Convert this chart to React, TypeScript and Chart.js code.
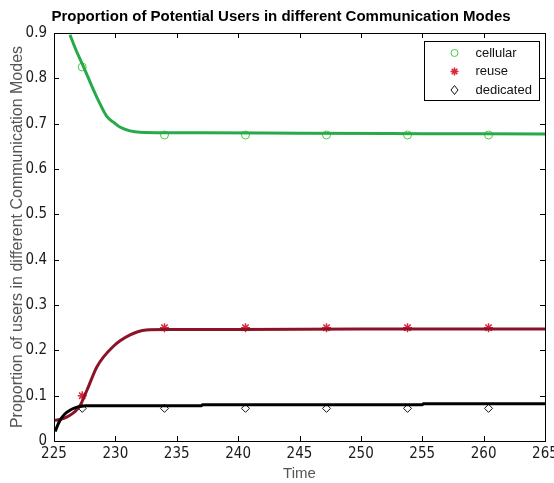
import React, { useEffect, useRef } from "react";
import { Chart, registerables } from "chart.js";

Chart.register(...registerables);

const TITLE = "Proportion of Potential Users in different Communication Modes";
const X_LABEL = "Time";
const Y_LABEL = "Proportion of users in different Communication Modes";
const SERIES_NAMES = ["cellular", "reuse", "dedicated"];

const X_MIN = 225;
const X_MAX = 265;
const X_STEP = 5;
const Y_MIN = 0;
const Y_MAX = 0.9;
const Y_STEP = 0.1;

// Marker (sampled) values
const markerTimes = [227.3, 234, 240.6, 247.2, 253.8, 260.4];
const cellularMarks = [0.825, 0.675, 0.675, 0.675, 0.675, 0.675];
const reuseMarks = [0.1, 0.25, 0.25, 0.25, 0.25, 0.25];
const dedicatedMarks = [0.072, 0.072, 0.072, 0.072, 0.072, 0.072];

// Fitted curves
const cellularCurveX = [226.3, 226.8, 227.4, 228.0, 228.6, 229.3, 229.9, 230.4, 231.2, 232, 234, 237, 245, 255, 265];
const cellularCurveY = [0.896, 0.862, 0.826, 0.788, 0.752, 0.716, 0.702, 0.692, 0.684, 0.681, 0.68, 0.68, 0.679, 0.678, 0.677];

const reuseCurveX = [225, 225.8, 226.3, 226.7, 227.1, 227.7, 228.5, 229.8, 231.2, 232.5, 234, 240, 250, 265];
const reuseCurveY = [0.045, 0.05, 0.057, 0.065, 0.077, 0.113, 0.164, 0.208, 0.234, 0.245, 0.246, 0.246, 0.247, 0.247];

const dedicatedCurveX = [225.1, 225.3, 225.5, 225.9, 226.3, 226.7, 227.1, 227.6, 230, 237, 237.1, 255, 255.1, 265];
const dedicatedCurveY = [0.021, 0.035, 0.046, 0.06, 0.068, 0.073, 0.076, 0.078, 0.078, 0.078, 0.08, 0.08, 0.082, 0.082];

const GREEN_LINE = "rgb(40,170,75)";
const RED_LINE = "rgb(140,18,40)";
const BLACK_LINE = "#000000";
const GREEN_MARK = "rgb(70,205,70)";
const RED_MARK = "rgb(220,35,55)";
const BLACK_MARK = "#111111";

const FONT = "Arial, 'Liberation Sans', sans-serif";
const NARROW = "'Liberation Sans Narrow', 'Arial Narrow', 'DejaVu Sans Condensed', Arial, sans-serif";

const toPoints = (xs: number[], ys: number[]) => xs.map((x, i) => ({ x, y: ys[i] }));

const axesPlugin = {
  id: "matlabAxes",
  afterDatasetsDraw(chart: any) {
    const { ctx, chartArea, scales } = chart;
    const { left, right, top, bottom } = chartArea;
    ctx.save();
    ctx.strokeStyle = "#000";
    ctx.lineWidth = 1;
    ctx.strokeRect(Math.round(left) + 0.5, Math.round(top) + 0.5, Math.round(right - left), Math.round(bottom - top));
    const tl = 5;
    ctx.beginPath();
    for (let v = X_MIN; v <= X_MAX + 1e-9; v += X_STEP) {
      const px = Math.round(scales.x.getPixelForValue(v)) + 0.5;
      ctx.moveTo(px, bottom);
      ctx.lineTo(px, bottom - tl);
      ctx.moveTo(px, top);
      ctx.lineTo(px, top + tl);
    }
    for (let i = 0; i <= Math.round((Y_MAX - Y_MIN) / Y_STEP); i++) {
      const v = Y_MIN + i * Y_STEP;
      const py = Math.round(scales.y.getPixelForValue(v)) + 0.5;
      ctx.moveTo(left, py);
      ctx.lineTo(left + tl, py);
      ctx.moveTo(right, py);
      ctx.lineTo(right - tl, py);
    }
    ctx.stroke();
    ctx.restore();
  },
  afterDraw(chart: any) {
    const { ctx, chartArea } = chart;
    // title
    ctx.save();
    ctx.font = `bold 15px ${FONT}`;
    ctx.fillStyle = "#000";
    ctx.textAlign = "center";
    ctx.textBaseline = "middle";
    ctx.fillText(TITLE, 281, 17);
    ctx.restore();

    const w = 115;
    const h = 59;
    const x0 = Math.round(chartArea.right - 121) + 0.5;
    const y0 = Math.round(chartArea.top + 8) + 0.5;
    ctx.save();
    ctx.fillStyle = "#fff";
    ctx.fillRect(x0, y0, w, h);
    ctx.strokeStyle = "#000";
    ctx.lineWidth = 1;
    ctx.strokeRect(x0, y0, w, h);
    ctx.font = `13px ${FONT}`;
    ctx.textBaseline = "middle";
    ctx.textAlign = "left";
    SERIES_NAMES.forEach((name, i) => {
      const cy = y0 + 11.5 + i * 18.5;
      const cx = x0 + 30;
      ctx.lineWidth = 1;
      if (i === 0) {
        ctx.strokeStyle = GREEN_MARK;
        ctx.beginPath();
        ctx.arc(cx, cy, 3.5, 0, Math.PI * 2);
        ctx.stroke();
      } else if (i === 1) {
        ctx.strokeStyle = RED_MARK;
        ctx.lineWidth = 1.5;
        ctx.beginPath();
        for (let k = 0; k < 4; k++) {
          const a = (k * Math.PI) / 4;
          ctx.moveTo(cx - 4 * Math.cos(a), cy - 4 * Math.sin(a));
          ctx.lineTo(cx + 4 * Math.cos(a), cy + 4 * Math.sin(a));
        }
        ctx.stroke();
      } else {
        ctx.strokeStyle = BLACK_MARK;
        ctx.beginPath();
        ctx.moveTo(cx, cy - 4.5);
        ctx.lineTo(cx + 3.5, cy);
        ctx.lineTo(cx, cy + 4.5);
        ctx.lineTo(cx - 3.5, cy);
        ctx.closePath();
        ctx.stroke();
      }
      ctx.fillStyle = "#111";
      ctx.fillText(name, x0 + 51, cy);
    });
    ctx.restore();
  },
};

export default function App() {
  const canvasRef = useRef<HTMLCanvasElement | null>(null);

  useEffect(() => {
    document.body.style.margin = "0";
    const canvas = canvasRef.current;
    if (!canvas) return;
    const lineDs = (label: string, xs: number[], ys: number[], color: string) => ({
      type: "line" as const,
      label,
      data: toPoints(xs, ys),
      borderColor: color,
      backgroundColor: color,
      borderWidth: 3,
      pointRadius: 0,
      cubicInterpolationMode: "monotone" as const,
      fill: false,
    });
    const markDs = (label: string, ys: number[], style: string, color: string, radius: number, bw: number) => ({
      type: "scatter" as const,
      label,
      data: toPoints(markerTimes, ys),
      showLine: false,
      pointStyle: style,
      pointRadius: radius,
      pointBorderColor: color,
      pointBackgroundColor: "rgba(0,0,0,0)",
      pointBorderWidth: bw,
      borderColor: color,
      backgroundColor: "rgba(0,0,0,0)",
    });

    const chart = new Chart(canvas, {
      type: "scatter",
      data: {
        datasets: [
          lineDs("cellular fit", cellularCurveX, cellularCurveY, GREEN_LINE),
          lineDs("dedicated fit", dedicatedCurveX, dedicatedCurveY, BLACK_LINE),
          lineDs("reuse fit", reuseCurveX, reuseCurveY, RED_LINE),
          markDs(SERIES_NAMES[0], cellularMarks, "circle", GREEN_MARK, 4, 1),
          markDs(SERIES_NAMES[1], reuseMarks, "star", RED_MARK, 4.5, 1.5),
          markDs(SERIES_NAMES[2], dedicatedMarks, "rectRot", BLACK_MARK, 4, 1),
        ] as any,
      },
      options: {
        responsive: false,
        animation: false,
        devicePixelRatio: 1,
        layout: { padding: { top: 33, right: 9, left: 0, bottom: 0 } },
        plugins: {
          legend: { display: false },
          tooltip: { enabled: false },
          title: { display: false },
        },
        scales: {
          x: {
            type: "linear",
            min: X_MIN,
            max: X_MAX,
            grid: { display: false, drawTicks: false },
            border: { display: false },
            ticks: {
              stepSize: X_STEP,
              color: "#1a1a1a",
              padding: 4,
              maxRotation: 0,
              font: { family: NARROW, size: 15 },
              callback: (v: any) => String(Math.round(Number(v))),
            },
            title: {
              display: true,
              text: X_LABEL,
              color: "#555",
              font: { family: FONT, size: 15 },
              padding: { top: 0, bottom: 0 },
            },
            afterFit: (s: any) => {
              s.height = 42;
              s.paddingLeft = 0;
              s.paddingRight = 0;
            },
          },
          y: {
            type: "linear",
            min: Y_MIN,
            max: Y_MAX,
            grid: { display: false, drawTicks: false },
            border: { display: false },
            ticks: {
              stepSize: Y_STEP,
              color: "#1a1a1a",
              padding: 7,
              font: { family: NARROW, size: 15 },
              callback: (v: any) => String(Number(Number(v).toFixed(1))),
            },
            title: {
              display: true,
              text: Y_LABEL,
              color: "#555",
              font: { family: FONT, size: 16 },
              padding: { top: 8, bottom: 0 },
            },
            afterFit: (s: any) => {
              s.width = 54;
              s.paddingTop = 0;
              s.paddingBottom = 0;
            },
          },
        },
      } as any,
      plugins: [axesPlugin],
    });
    return () => chart.destroy();
  }, []);

  return (
    <div style={{ width: 554, height: 483, background: "#fff" }}>
      <canvas ref={canvasRef} width={554} height={483} />
    </div>
  );
}
